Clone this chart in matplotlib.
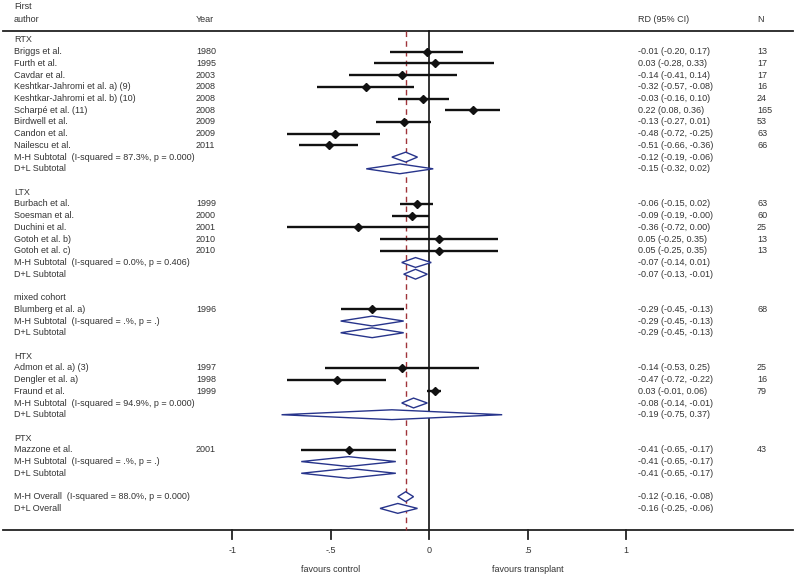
import matplotlib
matplotlib.use('Agg')
import matplotlib.pyplot as plt
import matplotlib.transforms as mtransforms

# Study-level data
authors = ['Briggs et al.', 'Furth et al.', 'Cavdar et al.', 'Keshtkar-Jahromi et al. a) (9)',
           'Keshtkar-Jahromi et al. b) (10)', 'Scharpé et al. (11)', 'Birdwell et al.',
           'Candon et al.', 'Nailescu et al.',
           'Burbach et al.', 'Soesman et al.', 'Duchini et al.', 'Gotoh et al. b)', 'Gotoh et al. c)',
           'Blumberg et al. a)',
           'Admon et al. a) (3)', 'Dengler et al. a)', 'Fraund et al.',
           'Mazzone et al.']
years = [1980, 1995, 2003, 2008, 2008, 2008, 2009, 2009, 2011,
         1999, 2000, 2001, 2010, 2010,
         1996,
         1997, 1998, 1999,
         2001]
study_group = [0] * 9 + [1] * 5 + [2] + [3] * 3 + [4]
rd = [-0.01, 0.03, -0.14, -0.32, -0.03, 0.22, -0.13, -0.48, -0.51,
      -0.06, -0.09, -0.36, 0.05, 0.05,
      -0.29,
      -0.14, -0.47, 0.03,
      -0.41]
rd_lo = [-0.20, -0.28, -0.41, -0.57, -0.16, 0.08, -0.27, -0.72, -0.66,
         -0.15, -0.19, -0.72, -0.25, -0.25,
         -0.45,
         -0.53, -0.72, -0.01,
         -0.65]
rd_hi = [0.17, 0.33, 0.14, -0.08, 0.10, 0.36, 0.01, -0.25, -0.36,
         0.02, -0.00, 0.00, 0.35, 0.35,
         -0.13,
         0.25, -0.22, 0.06,
         -0.17]
n_pat = [13, 17, 17, 16, 24, 165, 53, 63, 66,
         63, 60, 25, 13, 13,
         68,
         25, 16, 79,
         43]

# Subgroup pooled estimates
groups = ['RTX', 'LTX', 'mixed cohort', 'HTX', 'PTX']
mh_i2 = ['87.3%', '0.0%', '.%', '94.9%', '.%']
mh_p = ['0.000', '0.406', '.', '0.000', '.']
mh_rd = [-0.12, -0.07, -0.29, -0.08, -0.41]
mh_lo = [-0.19, -0.14, -0.45, -0.14, -0.65]
mh_hi = [-0.06, 0.01, -0.13, -0.01, -0.17]
dl_rd = [-0.15, -0.07, -0.29, -0.19, -0.41]
dl_lo = [-0.32, -0.13, -0.45, -0.75, -0.65]
dl_hi = [0.02, -0.01, -0.13, 0.37, -0.17]

# Overall
overall_label = ['M-H Overall  (I-squared = 88.0%, p = 0.000)', 'D+L Overall']
overall_rd = [-0.12, -0.16]
overall_lo = [-0.16, -0.25]
overall_hi = [-0.08, -0.06]

xticks = [-1, -0.5, 0, 0.5, 1]
xtick_labels = ['-1', '-.5', '0', '.5', '1']

W, H = 797, 578
X0_PX, UNIT_PX = 429.3, 197.0
Y0_PX, ROW_PX = 40.0, 11.71

TXT = '#333333'
DIA = '#27348b'
FS = 6.5
plt.rcParams['font.family'] = ['Liberation Sans', 'DejaVu Sans']

fig = plt.figure(figsize=(W / 100, H / 100), dpi=100)
ax = fig.add_axes([0, 0, 1, 1])
ax.set_xlim(-X0_PX / UNIT_PX, (W - X0_PX) / UNIT_PX)
ax.set_ylim((H - Y0_PX) / ROW_PX, -Y0_PX / ROW_PX)
ax.axis('off')

# x in axes fraction (pixel / W), y in row units
tr = mtransforms.blended_transform_factory(ax.transAxes, ax.transData)


def px(x):
    return x / W


def fmt_ci(e, lo, hi):
    return f"{e:.2f} ({lo:.2f}, {hi:.2f})"


def diamond(e, lo, hi, row):
    h = 0.42
    ax.fill([lo, e, hi, e, lo], [row, row - h, row, row + h, row],
            facecolor='white', edgecolor=DIA, lw=1.0, zorder=4)


# Header
ax.text(px(14), -2.9, 'First', transform=tr, fontsize=FS, color=TXT, va='center')
ax.text(px(14), -1.79, 'author', transform=tr, fontsize=FS, color=TXT, va='center')
ax.text(px(196), -1.79, 'Year', transform=tr, fontsize=FS, color=TXT, va='center')
ax.text(px(638), -1.79, 'RD (95% CI)', transform=tr, fontsize=FS, color=TXT, va='center')
ax.text(px(757), -1.79, 'N', transform=tr, fontsize=FS, color=TXT, va='center')

top_row, bot_row = -0.73, 41.84
ax.plot([px(3), px(793)], [top_row, top_row], transform=tr, color='#222222', lw=1.3)
ax.plot([px(3), px(793)], [bot_row, bot_row], transform=tr, color='#222222', lw=1.3)

row = 0
for g, name in enumerate(groups):
    ax.text(px(14), row, name, transform=tr, fontsize=FS, color=TXT, va='center')
    row += 1
    for i in range(len(authors)):
        if study_group[i] != g:
            continue
        ax.text(px(14), row, authors[i], transform=tr, fontsize=FS, color=TXT, va='center')
        ax.text(px(196), row, str(years[i]), transform=tr, fontsize=FS, color=TXT, va='center')
        ax.text(px(638), row, fmt_ci(rd[i], rd_lo[i], rd_hi[i]), transform=tr,
                fontsize=FS, color=TXT, va='center')
        ax.text(px(757), row, str(n_pat[i]), transform=tr, fontsize=FS, color=TXT, va='center')
        ax.plot([rd_lo[i], rd_hi[i]], [row, row], color='#111111', lw=1.7, zorder=3,
                solid_capstyle='butt')
        ax.plot(rd[i], row, marker='D', ms=4.2, color='#111111', zorder=5)
        row += 1
    ax.text(px(14), row, f"M-H Subtotal  (I-squared = {mh_i2[g]}, p = {mh_p[g]})",
            transform=tr, fontsize=FS, color=TXT, va='center')
    ax.text(px(638), row, fmt_ci(mh_rd[g], mh_lo[g], mh_hi[g]), transform=tr,
            fontsize=FS, color=TXT, va='center')
    diamond(mh_rd[g], mh_lo[g], mh_hi[g], row)
    row += 1
    ax.text(px(14), row, 'D+L Subtotal', transform=tr, fontsize=FS, color=TXT, va='center')
    ax.text(px(638), row, fmt_ci(dl_rd[g], dl_lo[g], dl_hi[g]), transform=tr,
            fontsize=FS, color=TXT, va='center')
    diamond(dl_rd[g], dl_lo[g], dl_hi[g], row)
    row += 2

for k in range(len(overall_label)):
    ax.text(px(14), row, overall_label[k], transform=tr, fontsize=FS, color=TXT, va='center')
    ax.text(px(638), row, fmt_ci(overall_rd[k], overall_lo[k], overall_hi[k]), transform=tr,
            fontsize=FS, color=TXT, va='center')
    diamond(overall_rd[k], overall_lo[k], overall_hi[k], row)
    row += 1

# reference lines
ax.plot([0, 0], [top_row, bot_row], color='#111111', lw=1.2, zorder=2)
ax.plot([overall_rd[0], overall_rd[0]], [top_row, bot_row], color='#a0343a', lw=1.0,
        ls=(0, (4, 3)), zorder=2)

# x axis ticks and labels
for t, lab in zip(xticks, xtick_labels):
    ax.plot([t, t], [bot_row, bot_row + 0.75], color='#222222', lw=1.3)
    ax.text(t, 43.6, lab, fontsize=FS, color=TXT, ha='center', va='center')
ax.text(-0.5, 45.26, 'favours control', fontsize=FS, color=TXT, ha='center', va='center')
ax.text(0.5, 45.26, 'favours transplant', fontsize=FS, color=TXT, ha='center', va='center')

fig.savefig('out.png', dpi=100, facecolor='white')
